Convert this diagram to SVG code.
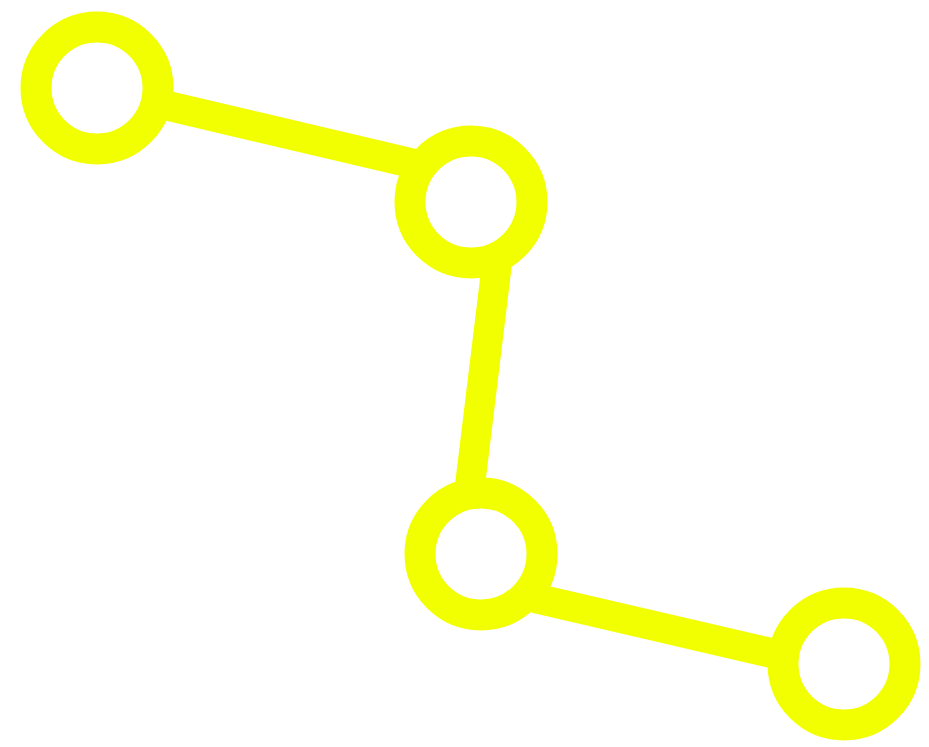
<svg xmlns="http://www.w3.org/2000/svg" width="929" height="747" viewBox="0 0 929 747">
<style>
.edge{stroke:#f2ff00;stroke-width:30;fill:none;stroke-linecap:butt}
.node{stroke:#f2ff00;stroke-width:31;fill:none}
</style>
<rect width="929" height="747" fill="#ffffff"/>
<g id="connectors">
<line class="edge" x1="160" y1="104" x2="415" y2="164"/>
<line class="edge" x1="498" y1="255" x2="470" y2="485"/>
<line class="edge" x1="530" y1="597" x2="780" y2="655"/>
</g>
<g id="n1"><circle class="node" cx="97" cy="88" r="61"/></g>
<g id="n2"><circle class="node" cx="471" cy="202" r="61"/></g>
<g id="n3"><circle class="node" cx="481" cy="554" r="61"/></g>
<g id="n4"><circle class="node" cx="844" cy="664" r="61"/></g>
</svg>
